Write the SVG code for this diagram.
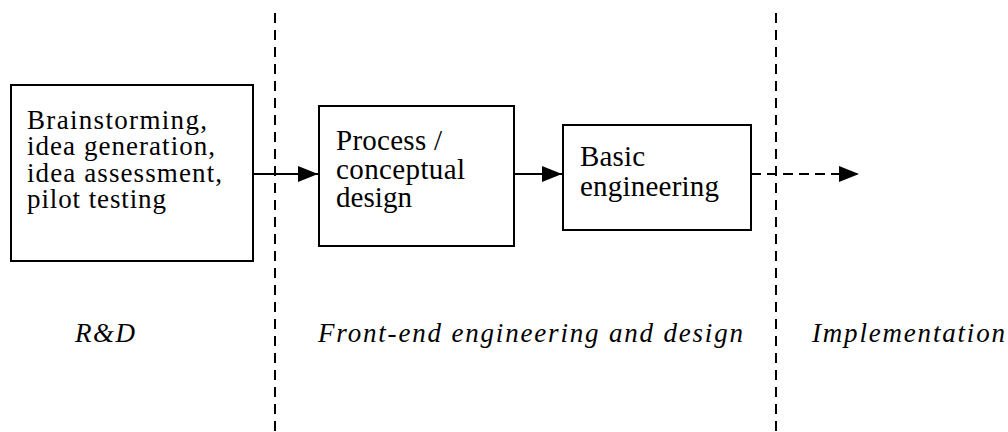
<svg xmlns="http://www.w3.org/2000/svg" width="1008" height="432" viewBox="0 0 1008 432">
<style>
.box{fill:#fff;stroke:#000;stroke-width:2}
.t{font-family:'Liberation Serif','Times New Roman',serif;font-size:29px;fill:#000}
.t1{font-family:'Liberation Serif','Times New Roman',serif;font-size:27px;fill:#000}
.l{font-family:'Liberation Serif','Times New Roman',serif;font-size:27px;font-style:italic;fill:#000}
.div{stroke:#000;stroke-width:2;stroke-dasharray:10,7;fill:none}
.c{stroke:#000;stroke-width:2;fill:none}
.cd{stroke:#000;stroke-width:2;fill:none;stroke-dasharray:10,6}
</style>
<defs>
<marker id="ah" markerWidth="20" markerHeight="16" refX="20" refY="8" orient="auto" markerUnits="userSpaceOnUse">
<path d="M0,0 L20,8 L0,16 Z" fill="#000"/>
</marker>
</defs>
<rect width="1008" height="432" fill="#fff"/>
<g id="dividers">
<line class="div" x1="275" y1="13" x2="275" y2="432"/>
<line class="div" x1="776" y1="13" x2="776" y2="432"/>
</g>
<g id="n1">
<rect class="box" x="11" y="85" width="242" height="176"/>
<text class="t1" x="27" y="129" textLength="180" lengthAdjust="spacing">Brainstorming,</text>
<text class="t1" x="27" y="155" textLength="188" lengthAdjust="spacing">idea generation,</text>
<text class="t1" x="27" y="182" textLength="195" lengthAdjust="spacing">idea assessment,</text>
<text class="t1" x="27" y="208" textLength="139" lengthAdjust="spacing">pilot testing</text>
</g>
<g id="n2">
<rect class="box" x="319" y="106" width="195" height="140"/>
<text class="t" x="336" y="150" textLength="106" lengthAdjust="spacing">Process /</text>
<text class="t" x="336" y="179" textLength="129" lengthAdjust="spacing">conceptual</text>
<text class="t" x="336" y="207" textLength="76" lengthAdjust="spacing">design</text>
</g>
<g id="n3">
<rect class="box" x="563" y="125" width="188" height="105"/>
<text class="t" x="580" y="166" textLength="65" lengthAdjust="spacing">Basic</text>
<text class="t" x="580" y="196" textLength="139" lengthAdjust="spacing">engineering</text>
</g>
<g id="connectors">
<line class="c" x1="253" y1="174" x2="318" y2="174" marker-end="url(#ah)"/>
<line class="c" x1="514" y1="174" x2="562" y2="174" marker-end="url(#ah)"/>
<line class="cd" x1="751" y1="174" x2="859" y2="174" marker-end="url(#ah)"/>
</g>
<g id="labels">
<text class="l" x="75" y="342" textLength="60" lengthAdjust="spacing">R&amp;D</text>
<text class="l" x="318" y="342" textLength="425" lengthAdjust="spacing">Front-end engineering and design</text>
<text class="l" x="812" y="342" textLength="193" lengthAdjust="spacing">Implementation</text>
</g>
</svg>
